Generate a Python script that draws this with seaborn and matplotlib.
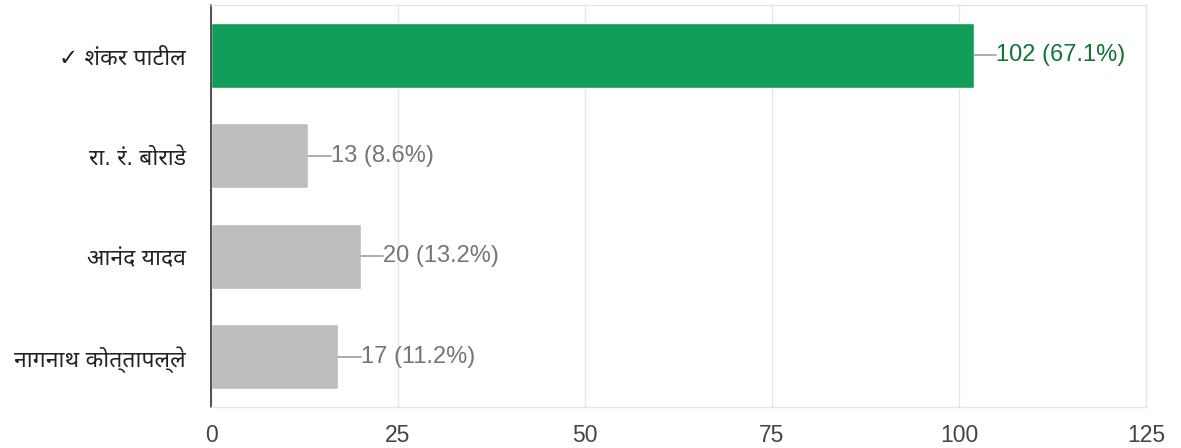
import matplotlib
matplotlib.use("Agg")
import matplotlib.pyplot as plt
import seaborn as sns
import pandas as pd

# data
candidates = ["✓ शंकर पाटील", "रा. रं. बोराडे", "आनंद यादव", "नागनाथ कोत्तापल्ले"]
votes = [102, 13, 20, 17]
percents = [67.1, 8.6, 13.2, 11.2]
xticks = [0, 25, 50, 75, 100, 125]

GREEN = "#0f9d58"
GREEN_TXT = "#137333"
GRAY = "#bdbdbd"
GRAY_TXT = "#757575"

sns.set_style("white")
plt.rcParams["font.family"] = ["Liberation Sans", "Noto Sans", "DejaVu Sans"]

df = pd.DataFrame({"candidate": candidates, "votes": votes, "pct": percents})
colors = [GREEN] + [GRAY] * (len(candidates) - 1)

fig = plt.figure(figsize=(11.81, 4.48), dpi=100)
ax = fig.add_axes([0.1787, 0.0915, 0.7917, 0.8975])

sns.barplot(data=df, x="votes", y="candidate", hue="candidate", palette=colors,
            width=0.65, legend=False, ax=ax, saturation=1)

ax.set_xlim(0, 125)
ax.set_ylim(len(candidates) - 0.5, -0.5)
ax.set_xticks(xticks)
ax.set_xlabel("")
ax.set_ylabel("")
ax.grid(axis="x", color="#e6e6e6", linewidth=1)
ax.set_axisbelow(True)
for side in ["top", "right", "bottom"]:
    ax.spines[side].set_color("#e6e6e6")
    ax.spines[side].set_linewidth(1)
ax.spines["left"].set_color("#333333")
ax.spines["left"].set_linewidth(1.2)
ax.tick_params(axis="x", length=0, pad=12, labelsize=16.5, labelcolor="#444444")
ax.tick_params(axis="y", length=0, pad=18, labelsize=16.5, labelcolor="#222222")

for i, (v, p) in enumerate(zip(votes, percents)):
    tc = GREEN_TXT if i == 0 else GRAY_TXT
    ax.plot([v, v + 3.0], [i, i], color="#9e9e9e", linewidth=1.2)
    ax.text(v + 3.0, i, f"{v} ({p}%)", va="center", ha="left",
            fontsize=17, color=tc)

fig.savefig("out.png", dpi=100)
